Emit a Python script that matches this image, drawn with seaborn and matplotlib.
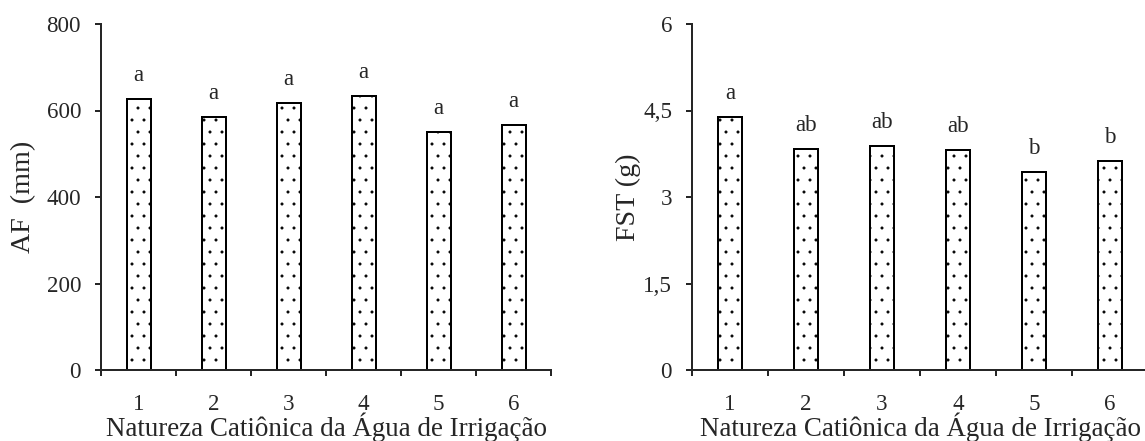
import numpy as np
import pandas as pd
import matplotlib
matplotlib.use('Agg')
import matplotlib.pyplot as plt
from matplotlib.ticker import FixedLocator
import seaborn as sns

# Data
cations = ['1', '2', '3', '4', '5', '6']
af_values = [627, 586, 618, 634, 551, 566]
af_letters = ['a', 'a', 'a', 'a', 'a', 'a']
fst_values = [4.39, 3.84, 3.89, 3.82, 3.43, 3.63]
fst_letters = ['a', 'ab', 'ab', 'ab', 'b', 'b']

af_ticks = [0, 200, 400, 600, 800]
af_ticklabels = ['0', '200', '400', '600', '800']
fst_ticks = [0, 1.5, 3, 4.5, 6]
fst_ticklabels = ['0', '1,5', '3', '4,5', '6']

xlabel = 'Natureza Catiônica da Água de Irrigação'

sns.set_style('ticks')
plt.rcParams['font.family'] = ['Liberation Serif', 'DejaVu Serif']
plt.rcParams['hatch.linewidth'] = 0.5
plt.rcParams['hatch.color'] = 'black'

fig = plt.figure(figsize=(1145 / 72, 441 / 72), dpi=72)
ax1 = fig.add_axes([101 / 1145, 71 / 441, 450 / 1145, 346 / 441])
ax2 = fig.add_axes([692 / 1145, 71 / 441, 456 / 1145, 346 / 441])

panels = [
    (ax1, af_values, af_letters, af_ticks, af_ticklabels, 'AF  (mm)', -0.145),
    (ax2, fst_values, fst_letters, fst_ticks, fst_ticklabels, 'FST (g)', -0.112),
]

for ax, vals, letters, yt, ytl, ylab, lx in panels:
    df = pd.DataFrame({'cation': cations, 'value': vals})
    sns.barplot(data=df, x='cation', y='value', ax=ax, width=0.32,
                color='white', saturation=1, edgecolor='black',
                linewidth=2, hatch='.', errorbar=None)

    # significance letters above each bar
    for i, (v, lab) in enumerate(zip(vals, letters)):
        ax.annotate(lab, (i, v), xytext=(0, 18), textcoords='offset points',
                    ha='center', va='baseline', fontsize=23)

    ax.set_xlim(-0.5, 5.5)
    ax.set_ylim(yt[0], yt[-1])
    ax.set_yticks(yt)
    ax.set_yticklabels(ytl)
    # ticks sit between the categories, labels in the middle
    ax.xaxis.set_minor_locator(FixedLocator(np.arange(-0.5, 6.0, 1.0)))
    ax.tick_params(axis='x', which='major', length=0, pad=24, labelsize=23)
    ax.tick_params(axis='x', which='minor', length=6, width=2, direction='out')
    ax.tick_params(axis='y', length=6, width=2, direction='out', pad=14,
                   labelsize=23)

    for side in ['top', 'right']:
        ax.spines[side].set_visible(False)
    for side in ['left', 'bottom']:
        ax.spines[side].set_linewidth(2)

    ax.set_xlabel(xlabel, fontsize=27, labelpad=-2)
    ax.set_ylabel(ylab, fontsize=28)
    ax.yaxis.set_label_coords(lx, 0.5)
    ax.set_facecolor('white')

fig.savefig('out.png', dpi=72, facecolor='white')
